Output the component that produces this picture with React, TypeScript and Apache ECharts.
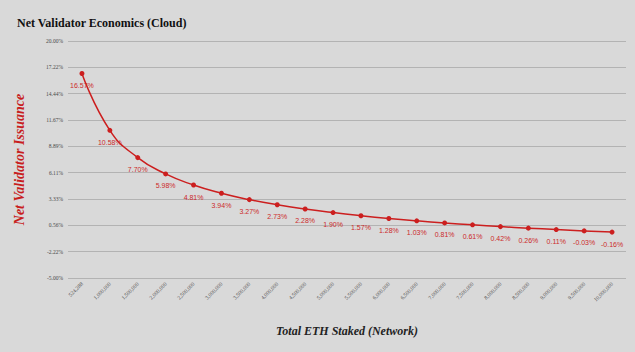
import React, { useEffect, useRef } from "react";
import * as echarts from "echarts";

const categories = [
  "524,288", "1,000,000", "1,500,000", "2,000,000", "2,500,000", "3,000,000", "3,500,000",
  "4,000,000", "4,500,000", "5,000,000", "5,500,000", "6,000,000", "6,500,000", "7,000,000",
  "7,500,000", "8,000,000", "8,500,000", "9,000,000", "9,500,000", "10,000,000",
];
const issuance = [
  16.57, 10.58, 7.70, 5.98, 4.81, 3.94, 3.27, 2.73, 2.28, 1.90,
  1.57, 1.28, 1.03, 0.81, 0.61, 0.42, 0.26, 0.11, -0.03, -0.16,
];
const yMin = -5;
const yMax = 20;
const yInterval = 25 / 9;

const SERIF = "'Liberation Serif', 'Times New Roman', serif";

export default function App() {
  const ref = useRef<HTMLDivElement>(null);
  useEffect(() => {
    if (!ref.current) return;
    const chart = echarts.init(ref.current, null, { renderer: "svg" });
    chart.setOption({
      animation: false,
      backgroundColor: "#d9d9d9",
      title: {
        text: "Net Validator Economics (Cloud)",
        left: 12,
        top: 12,
        textStyle: { fontFamily: SERIF, fontWeight: "bold", fontSize: 12, color: "#111" },
      },
      grid: { left: 68, right: 9, top: 41, bottom: 74 },
      xAxis: {
        type: "category",
        data: categories,
        boundaryGap: true,
        name: "Total ETH Staked (Network)",
        nameLocation: "middle",
        nameGap: 47,
        nameTextStyle: { fontFamily: SERIF, fontWeight: "bold", fontStyle: "italic", fontSize: 12, color: "#222" },
        axisLine: { show: false },
        axisTick: { show: false },
        axisLabel: {
          rotate: 45,
          fontSize: 5.5,
          fontFamily: SERIF,
          color: "#4a4a4a",
          margin: 5,
          interval: 0,
        },
      },
      yAxis: {
        type: "value",
        min: yMin,
        max: yMax,
        interval: yInterval,
        name: "Net Validator Issuance",
        nameLocation: "middle",
        nameGap: 42,
        nameRotate: 90,
        nameTextStyle: { fontFamily: SERIF, fontWeight: "bold", fontStyle: "italic", fontSize: 14, color: "#c81e1e" },
        axisLabel: {
          fontSize: 5.5,
          fontFamily: SERIF,
          color: "#4a4a4a",
          margin: 5,
          formatter: (v: number) => v.toFixed(2) + "%",
        },
        splitLine: { lineStyle: { color: "#b3b3b3", width: 1 } },
        axisLine: { show: false },
        axisTick: { show: false },
      },
      series: [
        {
          type: "line",
          data: issuance,
          smooth: true,
          symbol: "circle",
          symbolSize: 5,
          lineStyle: { color: "#cc1f1f", width: 1.5 },
          itemStyle: { color: "#cc1f1f" },
          label: {
            show: true,
            position: "bottom",
            distance: 6,
            fontSize: 7,
            fontFamily: "'Liberation Sans', Arial, sans-serif",
            color: "#cc2a2a",
            formatter: (p: any) => p.value.toFixed(2) + "%",
          },
        },
      ],
    });
    return () => chart.dispose();
  }, []);
  return <div ref={ref} style={{ position: "fixed", left: 0, top: 0, width: 635, height: 352 }} />;
}
